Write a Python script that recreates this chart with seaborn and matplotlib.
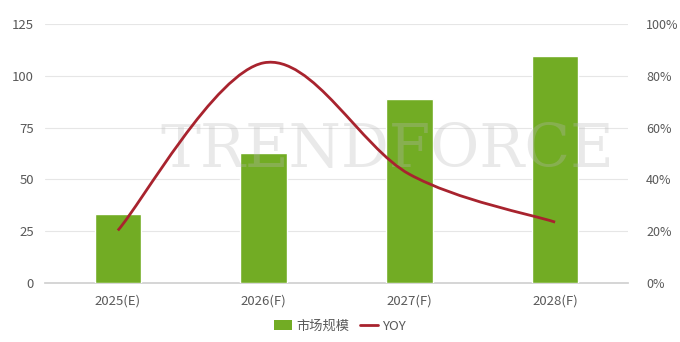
import numpy as np
import pandas as pd
import matplotlib
matplotlib.use("Agg")
import matplotlib.pyplot as plt
import seaborn as sns
from matplotlib.path import Path
from matplotlib.patches import PathPatch, Patch
from matplotlib.lines import Line2D

categories = ["2025(E)", "2026(F)", "2027(F)", "2028(F)"]
market_size = [33.3, 62.7, 88.8, 109.6]
yoy = [20.3, 85.0, 42.0, 23.5]
left_ticks = [0, 25, 50, 75, 100, 125]
right_ticks = [0, 20, 40, 60, 80, 100]
legend_labels = ["市场规模", "YOY"]

sns.set_theme(style="white")
plt.rcParams["font.family"] = ["Noto Sans CJK SC", "DejaVu Sans"]

bar_color = "#72AC24"
line_color = "#A8232E"
text_color = "#595959"

fig = plt.figure(figsize=(6.8, 3.42), dpi=100)
ax = fig.add_axes([45 / 680, 1 - 283 / 342, 583 / 680, 259 / 342])

df = pd.DataFrame({"cat": categories, "size": market_size})
sns.barplot(data=df, x="cat", y="size", color=bar_color, width=0.32,
            saturation=1, ax=ax, zorder=3)

ax.set_ylim(0, 125)
ax.set_xlim(-0.5, 3.5)
ax.set_yticks(left_ticks)
ax.set_yticklabels([str(t) for t in left_ticks], color=text_color, fontsize=9.5)
ax.set_xticks(range(len(categories)))
ax.set_xticklabels(categories, color=text_color, fontsize=9.5)
ax.set_xlabel("")
ax.set_ylabel("")
for t in left_ticks[1:]:
    ax.axhline(t, color="#e6e6e6", lw=0.8, zorder=1)
for s in ["top", "right", "left"]:
    ax.spines[s].set_visible(False)
ax.spines["bottom"].set_color("#d0d0d0")
ax.tick_params(axis="both", length=0, pad=8)

# watermark
ax.text(0.29, 56, "TRENDFORCE", fontsize=43, family="DejaVu Serif",
        color="#b8b8b8", alpha=0.3, ha="left", va="baseline", zorder=4)

ax2 = ax.twinx()
ax2.set_ylim(0, 100)
ax2.set_yticks(right_ticks)
ax2.set_yticklabels([f"{t}%" for t in right_ticks], color=text_color, fontsize=9)
for s in ["top", "right", "left", "bottom"]:
    ax2.spines[s].set_visible(False)
ax2.tick_params(axis="y", length=0, pad=13)

# smoothed line (Excel-style Bezier through data points)
xs = np.arange(len(yoy), dtype=float)
ys = np.array(yoy, dtype=float)
pts = np.column_stack([xs, ys])
verts = [tuple(pts[0])]
codes = [Path.MOVETO]
n = len(pts)
for i in range(n - 1):
    p0 = pts[i - 1] if i > 0 else pts[i]
    p1 = pts[i]
    p2 = pts[i + 1]
    p3 = pts[i + 2] if i + 2 < n else pts[i + 1]
    c1 = p1 + (p2 - p0) / 6.0
    c2 = p2 - (p3 - p1) / 6.0
    verts += [tuple(c1), tuple(c2), tuple(p2)]
    codes += [Path.CURVE4, Path.CURVE4, Path.CURVE4]
ax2.add_patch(PathPatch(Path(verts, codes), facecolor="none",
                        edgecolor=line_color, lw=2, zorder=5))
sns.lineplot(x=xs, y=ys, ax=ax2, color=line_color, lw=0, legend=False)

handles = [Patch(facecolor=bar_color, edgecolor="none"),
           Line2D([0], [0], color=line_color, lw=2)]
fig.legend(handles, legend_labels, loc="center", bbox_to_anchor=(0.5, 1 - 326 / 342),
           ncol=2, frameon=False, fontsize=9.5, handlelength=1.4,
           handletextpad=0.3, columnspacing=0.8, labelcolor=text_color)

fig.savefig("out.png", dpi=100, facecolor="white")
